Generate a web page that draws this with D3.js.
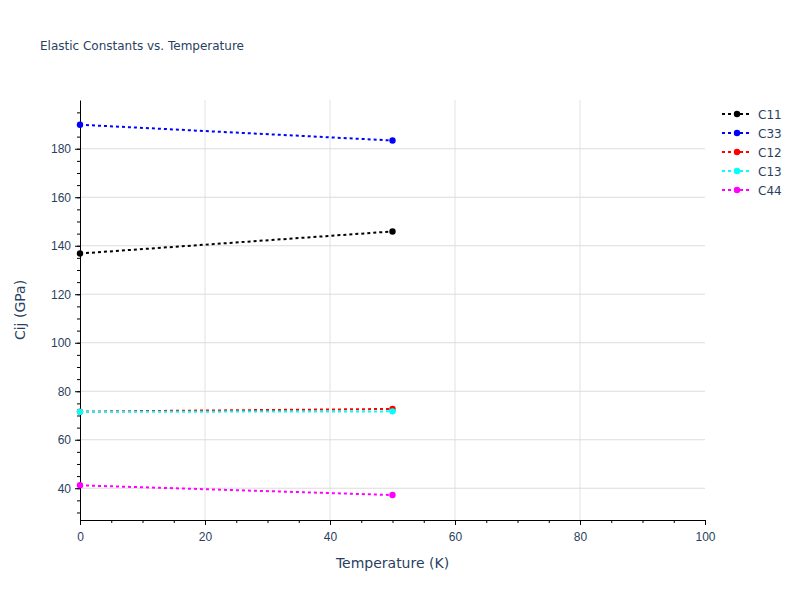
<!DOCTYPE html>
<html><head><meta charset="utf-8">
<script src="https://cdn.jsdelivr.net/npm/d3@7/dist/d3.min.js"></script>
<style>body{margin:0;background:#fff}svg{font-family:"DejaVu Sans",Verdana,sans-serif}</style>
</head><body>
<svg id="c" width="800" height="600"></svg>
<script>
const temps = [0, 50];
const seriesNames = ["C11", "C33", "C12", "C13", "C44"];
const seriesColors = ["black", "blue", "red", "cyan", "magenta"];
const C11 = [136.8, 145.9];
const C33 = [189.9, 183.4];
const C12 = [71.6, 72.7];
const C13 = [71.5, 71.7];
const C44 = [41.2, 37.2];
const seriesValues = [C11, C33, C12, C13, C44];
const xTicks = [0, 20, 40, 60, 80, 100];
const yTicks = [40, 60, 80, 100, 120, 140, 160, 180];

const svg = d3.select("#c");
const L = 80, R = 705, T = 100, B = 520;
const textCol = "#2a3f5f";
const x = d3.scaleLinear().domain([0, 100]).range([L, R]);
const y = d3.scaleLinear().domain([26.9, 200.1]).range([B, T]);

// gridlines
svg.append("g").selectAll("line").data(xTicks.filter(d => d > 0 && d < 100)).join("line")
  .attr("x1", d => x(d)).attr("x2", d => x(d)).attr("y1", T).attr("y2", B)
  .attr("stroke", "#e2e2e2").attr("stroke-width", 1);
svg.append("g").selectAll("line").data(yTicks).join("line")
  .attr("x1", L).attr("x2", R).attr("y1", d => y(d)).attr("y2", d => y(d))
  .attr("stroke", "#dcdcdc").attr("stroke-width", 1);

// axes
const xMinor = d3.range(0, 101, 5);
const yMinor = d3.range(30, 200, 5);
const xAx = svg.append("g").attr("transform", `translate(0,${B})`);
xAx.call(d3.axisBottom(x).tickValues(xMinor).tickSize(3).tickFormat(""));
xAx.call(g => g.select(".domain").remove());
const xMaj = svg.append("g").attr("transform", `translate(0,${B})`)
  .call(d3.axisBottom(x).tickValues(xTicks).tickSize(5).tickPadding(7).tickSizeOuter(0));
xMaj.select(".domain").attr("stroke", "#000");
xMaj.selectAll("text").attr("fill", textCol).attr("font-size", 12);

const yAx = svg.append("g").attr("transform", `translate(${L},0)`);
yAx.call(d3.axisLeft(y).tickValues(yMinor).tickSize(3).tickFormat(""));
yAx.call(g => g.select(".domain").remove());
const yMaj = svg.append("g").attr("transform", `translate(${L},0)`)
  .call(d3.axisLeft(y).tickValues(yTicks).tickSize(5).tickPadding(4).tickSizeOuter(0));
yMaj.select(".domain").attr("stroke", "#000");
yMaj.selectAll("text").attr("fill", textCol).attr("font-size", 12);
svg.selectAll(".tick line").attr("stroke", "#000");

// series
const line = d3.line().x((d, i) => x(temps[i])).y(d => y(d));
seriesValues.forEach((vals, k) => {
  svg.append("path").datum(vals).attr("d", line)
    .attr("fill", "none").attr("stroke", seriesColors[k]).attr("stroke-width", 2)
    .attr("stroke-dasharray", "3,3");
  svg.append("g").selectAll("circle").data(vals).join("circle")
    .attr("cx", (d, i) => x(temps[i])).attr("cy", d => y(d)).attr("r", 3.2)
    .attr("fill", seriesColors[k]);
});

// titles
svg.append("text").attr("x", 40).attr("y", 50).attr("font-size", 12).attr("fill", textCol)
  .text("Elastic Constants vs. Temperature");
svg.append("text").attr("x", (L + R) / 2).attr("y", 568).attr("text-anchor", "middle")
  .attr("font-size", 14).attr("fill", textCol).text("Temperature (K)");
svg.append("text").attr("transform", `translate(25,${(T + B) / 2}) rotate(-90)`)
  .attr("text-anchor", "middle").attr("font-size", 14).attr("fill", textCol).text("Cij (GPa)");

// legend
const lg = svg.append("g");
seriesNames.forEach((n, k) => {
  const yy = 114 + k * 19;
  lg.append("line").attr("x1", 722).attr("x2", 751).attr("y1", yy).attr("y2", yy)
    .attr("stroke", seriesColors[k]).attr("stroke-width", 2).attr("stroke-dasharray", "3,3");
  lg.append("circle").attr("cx", 737).attr("cy", yy).attr("r", 3.2).attr("fill", seriesColors[k]);
  lg.append("text").attr("x", 758).attr("y", yy + 4.5).attr("font-size", 12).attr("fill", textCol).text(n);
});
</script>
</body></html>
